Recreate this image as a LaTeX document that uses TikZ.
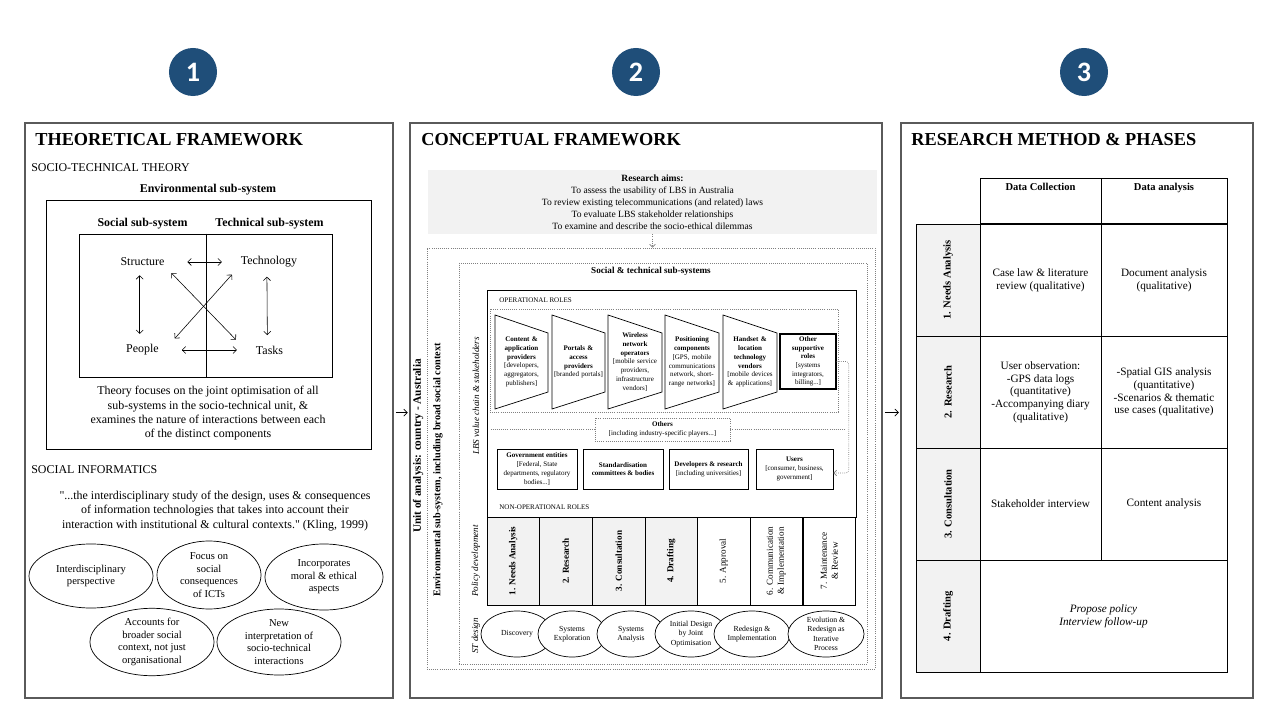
\documentclass[tikz,border=0pt]{standalone}
\usepackage{fontspec}
\setmainfont{Liberation Serif}
\newfontfamily\numfont{Carlito}
\usepackage{tikz}
\usetikzlibrary{
    positioning,
    arrows.meta,
    shapes.geometric,
    calc
}
\definecolor{badgeBlue}{RGB}{31, 78, 121}
\definecolor{cellGray}{RGB}{242, 242, 242}
\definecolor{frameGray}{RGB}{90, 90, 90}

\newcommand{\fsz}[2]{\fontsize{#1}{#2}\selectfont}

\tikzset{
    panel/.style={draw=frameGray, line width=1pt, inner sep=0pt},
    badge/.style={circle, fill=badgeBlue, text=white, minimum size=1.2cm, inner sep=0pt, font=\numfont\fsz{20}{22}\bfseries},
    paneltitle/.style={anchor=west, inner sep=0pt, font=\fsz{13}{15}\bfseries},
    caps/.style={anchor=west, inner sep=0pt, font=\fsz{8.5}{10}},
    body/.style={align=center, inner sep=1pt, font=\fsz{8.5}{10.2}},
    oval/.style={ellipse, draw, fill=white, inner sep=0pt, align=center, font=\fsz{7.5}{9}},
    stoval/.style={ellipse, draw, fill=white, inner xsep=0pt, inner ysep=-1.5pt, align=center, font=\fsz{5.5}{6.7}, minimum height=1.15cm},
    dbl/.style={{Straight Barb[length=2.5pt,width=5pt]}-{Straight Barb[length=2.5pt,width=5pt]}, line width=0.4pt},
    small/.style={inner sep=0pt, font=\fsz{5}{6.2}},
    roletext/.style={align=center, text width=1.3cm, inner sep=0pt, font=\fsz{5}{6.2}},
    rolebox/.style={draw, line width=0.5pt, align=center, inner sep=0pt, minimum height=1cm, font=\fsz{5}{6.2}},
    pdcell/.style={draw, rotate=90, minimum width=2.2cm, minimum height=1.3175cm, inner sep=0pt, align=center, font=\fsz{6.5}{7.8}},
    dashbox/.style={draw=gray, densely dotted, inner sep=0pt},
    rowhead/.style={draw, fill=cellGray, rotate=90, minimum width=2.8cm, minimum height=1.6cm, inner sep=0pt, font=\fsz{7.5}{9}\bfseries},
    tcell/.style={draw, minimum width=3.025cm, minimum height=2.8cm, inner sep=0pt, align=center, font=\fsz{8}{9}},
    sidelabel/.style={rotate=90, inner sep=0pt, font=\fsz{6.5}{8}\itshape}
}

\begin{document}
\begin{tikzpicture}[x=0.025cm, y=-0.025cm, line width=0.5pt]
    \fill[white] (0,0) rectangle (1280,720);
    \useasboundingbox (0,0) rectangle (1280,720);

    % Numbered badges
    \node[badge] (n1) at (193,72) {1};
    \node[badge] (n2) at (636,72) {2};
    \node[badge] (n3) at (1084,72) {3};

    % Panels
    \node[panel, minimum width=9.2cm, minimum height=14.375cm] (p1) at (209,410.5) {};
    \node[panel, minimum width=11.8cm, minimum height=14.375cm] (p2) at (646,410.5) {};
    \node[panel, minimum width=8.8cm, minimum height=14.375cm] (p3) at (1077,410.5) {};
    \draw[-{Straight Barb[length=2.5pt,width=5pt]}, shorten <=1.5pt, shorten >=1pt] ([yshift=-1.5pt]p1.east) -- ([yshift=-1.5pt]p2.west);
    \draw[-{Straight Barb[length=2.5pt,width=5pt]}, shorten <=1.5pt, shorten >=1pt] ([yshift=-1.5pt]p2.east) -- ([yshift=-1.5pt]p3.west);

    % ---------- Theoretical framework ----------
    \node[paneltitle] (t1) at (35,140) {THEORETICAL FRAMEWORK};
    \node[caps] (stt) at (31,168) {SOCIO-TECHNICAL THEORY};
    \node[font=\fsz{8.5}{10}\bfseries] (envlbl) at (208,190) {Environmental sub-system};
    \node[draw, minimum width=8.125cm, minimum height=6.225cm, inner sep=0pt] (envbox) at (208.5,324.5) {};
    \node[font=\fsz{8.5}{10}\bfseries] (soclbl) at (142.5,224) {Social sub-system};
    \node[font=\fsz{8.5}{10}\bfseries] (teclbl) at (269.5,224) {Technical sub-system};
    \node[draw, minimum width=6.325cm, minimum height=3.575cm, inner sep=0pt] (sysbox) at (205.5,305.5) {};
    \draw ([xshift=0.5pt]sysbox.north) -- ([xshift=0.5pt]sysbox.south);

    \node[font=\fsz{8.5}{10}] (str) at (142.5,262) {Structure};
    \node[font=\fsz{8.5}{10}] (tech) at (269,262) {Technology};
    \node[font=\fsz{8.5}{10}] (ppl) at (142.5,350) {People};
    \node[font=\fsz{8.5}{10}] (tsk) at (269.5,350) {Tasks};

    \draw[dbl, shorten <=0.45cm, shorten >=0.35cm] (str) -- (tech);
    \draw[dbl, shorten <=0.45cm, shorten >=0.35cm] (ppl) -- (tsk);
    \draw[dbl, shorten <=3pt, shorten >=4pt] ([xshift=-2pt]str.south) -- ([xshift=-2pt]ppl.north);
    \draw[dbl, shorten <=3pt, shorten >=4pt] ([xshift=-1.5pt]tech.south) -- ([xshift=-1.5pt]tsk.north);
    \draw[dbl, shorten <=2pt, shorten >=1pt] (str.south east) -- ([xshift=-0.35cm]tsk.north west);
    \draw[dbl, shorten <=2pt, shorten >=1pt] ([xshift=-0.05cm]tech.south west) -- ([xshift=0.25cm]ppl.north east);

    \node[body] (theory) at (208,413.5) {Theory focuses on the joint optimisation of all\\sub-systems in the socio-technical unit, \&\\examines the nature of interactions between each\\of the distinct components};

    \node[caps] (si) at (31,470) {SOCIAL INFORMATICS};
    \node[body] (kling) at (215,511) {\textquotedbl...the interdisciplinary study of the design, uses \& consequences\\of information technologies that takes into account their\\interaction with institutional \& cultural contexts.\textquotedbl\ (Kling, 1999)};

    \node[oval, minimum width=3.1cm, minimum height=1.6cm] (e1) at (91,576) {Interdisciplinary\\perspective};
    \node[oval, minimum width=2.6cm, minimum height=1.7cm] (e2) at (209,575) {Focus on\\social\\consequences\\of ICTs};
    \node[oval, minimum width=2.95cm, minimum height=1.65cm] (e3) at (324,577) {Incorporates\\moral \& ethical\\aspects};
    \node[oval, minimum width=3.1cm, minimum height=1.65cm] (e4) at (152,642) {Accounts for\\broader social\\context, not just\\organisational};
    \node[oval, minimum width=3.1cm, minimum height=1.65cm] (e5) at (279,642) {New\\interpretation of\\socio-technical\\interactions};

    % ---------- Conceptual framework ----------
    \node[paneltitle] (t2) at (421,140) {CONCEPTUAL FRAMEWORK};
    \node[fill=cellGray, minimum width=11.225cm, minimum height=1.6cm, inner sep=0pt, align=center, font=\fsz{6.8}{8.5}] (aims) at (652.5,202) {\textbf{Research aims:}\\To assess the usability of LBS in Australia\\To review existing telecommunications (and related) laws\\To evaluate LBS stakeholder relationships\\To examine and describe the socio-ethical dilemmas};
    \node[dashbox, minimum width=11.2cm, minimum height=10.525cm] (unitbox) at (651,458.5) {};
    \node[dashbox, minimum width=10.2cm, minimum height=10.025cm] (sysdash) at (663,463.5) {};
    \draw[gray, densely dotted, -{Straight Barb[length=2pt,width=4pt]}] (aims.south) -- (aims.south |- unitbox.north);

    \node[rotate=90, inner sep=0pt, font=\fsz{8}{9}\bfseries] (unitlbl) at (418,446) {Unit of analysis: country - Australia};
    \node[rotate=90, inner sep=0pt, font=\fsz{7.3}{8}\bfseries] (envsub) at (438,470) {Environmental sub-system, including broad social context};
    \node[font=\fsz{6.5}{8}\bfseries] (stlbl) at (651,271) {Social \& technical sub-systems};
    \node[sidelabel] (lbslbl) at (476,396) {LBS value chain \& stakeholders};
    \node[sidelabel] (pdlbl) at (476,561) {Policy development};
    \node[sidelabel] (stdlbl) at (476,636) {ST design};

    \node[draw, minimum width=9.225cm, minimum height=5.675cm, inner sep=0pt] (rolesbox) at (671.5,403.5) {};
    \node[small, anchor=west] (oplbl) at (499,300) {OPERATIONAL ROLES};
    \node[dashbox, minimum width=8.7cm, minimum height=2.575cm] (opbox) at (664,360.5) {};

    % Value chain
    \draw (495,315) -- (548,333) -- (548,392) -- (495,409) -- cycle;
    \node[roletext] (cap) at (521.5,362) {\textbf{Content \&\\application\\providers}\\{[}developers,\\aggregators,\\publishers{]}};
    \draw (552,315) -- (605,333) -- (605,392) -- (552,409) -- cycle;
    \node[roletext] (portal) at (578.5,362) {\textbf{Portals \&\\access\\providers}\\{[}branded portals{]}};
    \draw (608,315) -- (662,333) -- (662,392) -- (608,409) -- cycle;
    \node[roletext] (wno) at (635,362) {\textbf{Wireless\\network\\operators}\\{[}mobile service\\providers,\\infrastructure\\vendors{]}};
    \draw (665,315) -- (719,333) -- (719,392) -- (665,409) -- cycle;
    \node[roletext] (pos) at (692,362) {\textbf{Positioning\\components}\\{[}GPS, mobile\\communications\\network, short-\\range networks{]}};
    \draw (723,315) -- (777,333) -- (777,392) -- (723,409) -- cycle;
    \node[roletext] (hand) at (750,362) {\textbf{Handset \&\\location\\technology\\vendors}\\{[}mobile devices\\\& applications{]}};
    \node[draw, line width=1pt, minimum width=1.4cm, minimum height=1.375cm, inner sep=0pt, align=center, font=\fsz{5}{6.2}] (other) at (808,361.5) {\textbf{Other}\\\textbf{supportive}\\\textbf{roles}\\{[}systems\\integrators,\\billing...{]}};

    % Others
    \node[dashbox, minimum width=3.375cm, minimum height=0.575cm, align=center, font=\fsz{5}{6.2}] (others) at (662.5,429.5) {\textbf{Others}\\{[}including industry-specific players...{]}};
    \draw[gray, densely dotted] (others.west) -- (others.west -| opbox.west);
    \draw[gray, densely dotted] (others.east) -- ++(115,0);

    % Non-operational roles
    \node[rolebox, minimum width=2cm] (gov) at (537,469) {\textbf{Government entities}\\{[}Federal, State\\departments, regulatory\\bodies...{]}};
    \node[rolebox, minimum width=2cm] (std) at (623,469) {\textbf{Standardisation}\\\textbf{committees \& bodies}};
    \node[rolebox, minimum width=1.975cm] (dev) at (708.5,469) {\textbf{Developers \& research}\\{[}including universities{]}};
    \node[rolebox, minimum width=1.925cm] (users) at (794.5,469) {\textbf{Users}\\{[}consumer, business,\\government{]}};
    \draw[gray, densely dotted, rounded corners=2pt, -{Straight Barb[length=2pt,width=4pt]}] (other.east) -- ++(12,0) |- ([yshift=-0.1cm]users.east);
    \node[small, anchor=west] (nonoplbl) at (499,507) {NON-OPERATIONAL ROLES};

    % Policy development
    \node[pdcell, fill=cellGray, font=\fsz{6.5}{7.8}\bfseries] (pd1) at (513.3,561) {1. Needs Analysis};
    \node[pdcell, fill=cellGray, font=\fsz{6.5}{7.8}\bfseries] (pd2) at (565.8,561) {2. Research};
    \node[pdcell, fill=cellGray, font=\fsz{6.5}{7.8}\bfseries] (pd3) at (618.7,561) {3. Consultation};
    \node[pdcell, fill=cellGray, font=\fsz{6.5}{7.8}\bfseries] (pd4) at (671.2,561) {4. Drafting};
    \node[pdcell] (pd5) at (723.7,561) {5. Approval};
    \node[pdcell] (pd6) at (776.4,561) {6. Communication\\\& Implementation};
    \node[pdcell] (pd7) at (829.4,561) {7. Maintenance\\\& Review};

    % ST design
    \node[stoval, minimum width=1.8cm] (st1) at (517,634) {Discovery};
    \node[stoval, minimum width=1.7cm] (st2) at (572,634) {Systems\\Exploration};
    \node[stoval, minimum width=1.7cm] (st3) at (631,634) {Systems\\Analysis};
    \node[stoval, minimum width=1.8cm] (st4) at (691,634) {Initial Design\\by Joint\\Optimisation};
    \node[stoval, minimum width=1.9cm] (st5) at (752,634) {Redesign \&\\Implementation};
    \node[stoval, minimum width=1.9cm] (st6) at (826,634) {Evolution \&\\Redesign as\\Iterative\\Process};

    % ---------- Research method ----------
    \node[paneltitle] (t3) at (911,140) {RESEARCH METHOD \& PHASES};
    \node[draw, minimum width=3.025cm, minimum height=1.125cm, inner sep=0pt] (dchead) at (1040.5,200.5) {};
    \node[draw, minimum width=3.15cm, minimum height=1.125cm, inner sep=0pt] (dahead) at (1164,200.5) {};
    \node[anchor=north, inner sep=0pt, font=\fsz{7.5}{9}\bfseries] (dclbl) at ([yshift=-0.14cm]dchead.north) {Data Collection};
    \node[anchor=north, inner sep=0pt, font=\fsz{7.5}{9}\bfseries] (dalbl) at ([yshift=-0.14cm]dahead.north) {Data analysis};

    \node[rowhead] (r1) at (948,280) {1. Needs Analysis};
    \node[rowhead] (r2) at (948,392) {2. Research};
    \node[rowhead] (r3) at (948,504) {3. Consultation};
    \node[rowhead] (r4) at (948,616) {4. Drafting};

    \node[tcell] (c11) at (1040.5,280) {Case law \& literature\\review (qualitative)};
    \node[tcell, minimum width=3.15cm] (c12) at (1164,280) {Document analysis\\(qualitative)};
    \node[tcell] (c21) at (1040.5,392) {User observation:\\-GPS data logs\\(quantitative)\\-Accompanying diary\\(qualitative)};
    \node[tcell, minimum width=3.15cm] (c22) at (1164,392) {-Spatial GIS analysis\\(quantitative)\\-Scenarios \& thematic\\use cases (qualitative)};
    \node[tcell] (c31) at (1040.5,504) {Stakeholder interview};
    \node[tcell, minimum width=3.15cm] (c32) at (1164,504) {Content analysis};
    \node[tcell, minimum width=6.175cm, font=\fsz{8}{9}\itshape] (c41) at (1103.5,616) {Propose policy\\Interview follow-up};
\end{tikzpicture}
\end{document}
